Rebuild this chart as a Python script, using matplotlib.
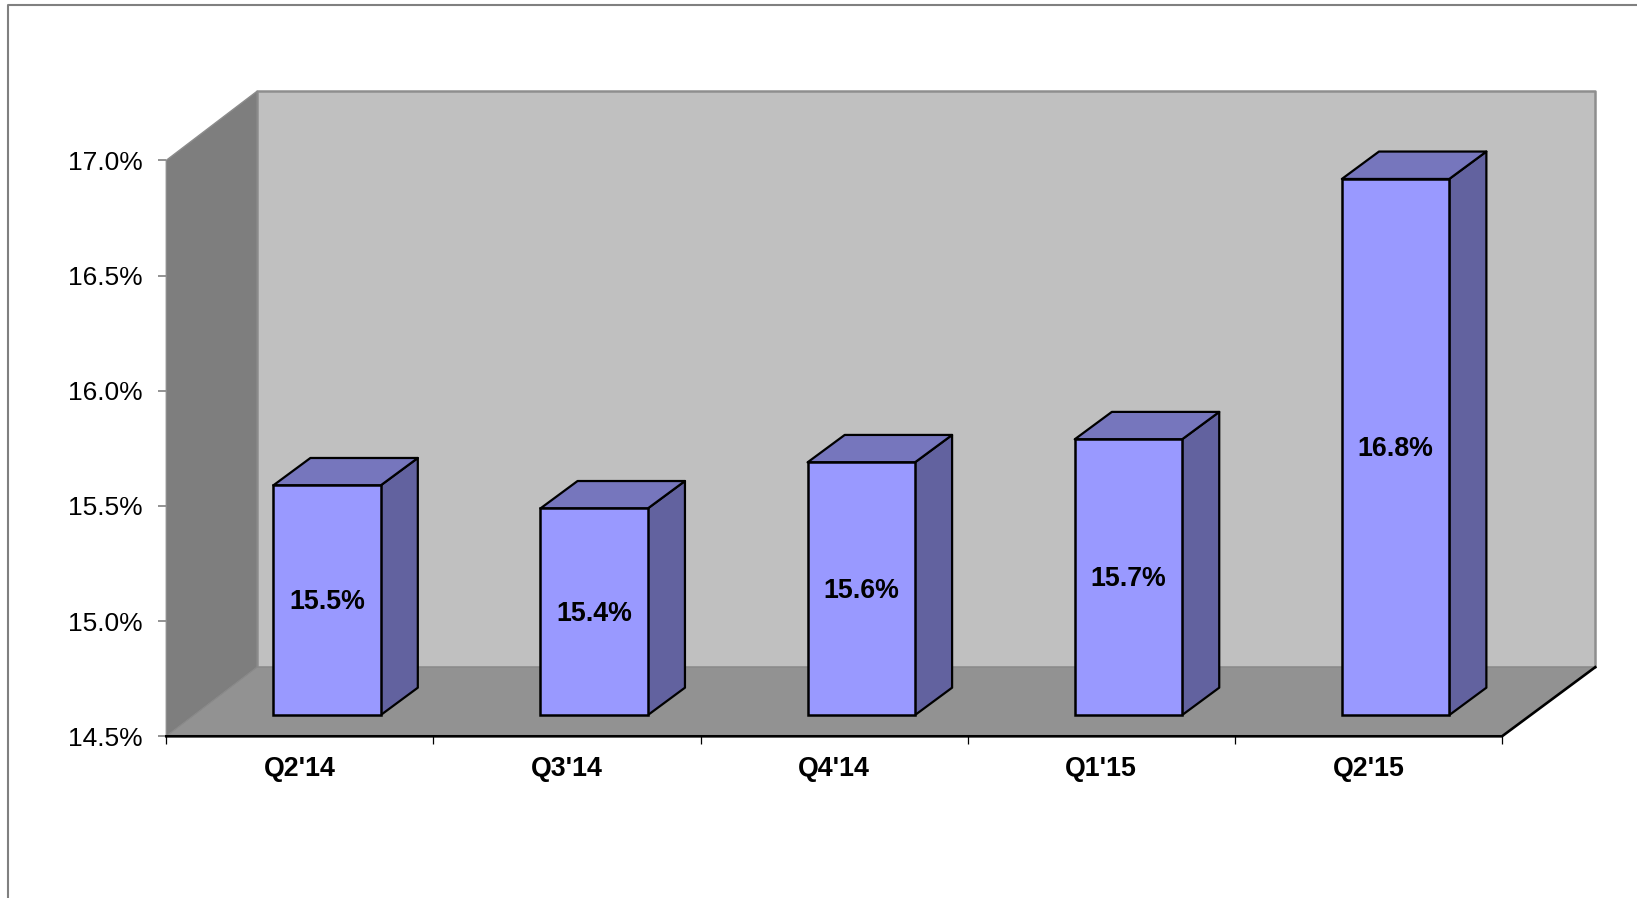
import matplotlib
matplotlib.use("Agg")
import matplotlib.pyplot as plt
from matplotlib.lines import Line2D
from matplotlib.patches import Polygon

plt.rcParams['font.family'] = ['Liberation Sans', 'DejaVu Sans']

quarters = ["Q2'14", "Q3'14", "Q4'14", "Q1'15", "Q2'15"]
values = [15.5, 15.4, 15.6, 15.7, 16.83]
bar_labels = ["15.5%", "15.4%", "15.6%", "15.7%", "16.8%"]
y_ticks = [14.5, 15.0, 15.5, 16.0, 16.5, 17.0]

W, H = 1637, 898
y_min, y_max = 14.5, 17.0

# depth of the fake 3d box, in data units
wall_dx_left, wall_dx_right, wall_dy = 0.340, 0.349, 0.30
front_dx, front_dy = 0.1015, 0.092
top_shift = 0.089
bar_dx, bar_dy = 0.139, 0.119
bar_w = 0.402

fig = plt.figure(figsize=(W / 100, H / 100), dpi=100)
ax = fig.add_axes([166.3 / W, 1 - 736.3 / H, (1502 - 166.3) / W, (736.3 - 160.3) / H])
ax.set_xlim(0, 5)
ax.set_ylim(y_min, y_max)
ax.patch.set_visible(False)
for s in ax.spines.values():
    s.set_visible(False)


def face(pts, color, edge=None, lw=0.0, z=1):
    ax.add_patch(Polygon(pts, closed=True, facecolor=color, edgecolor=edge or color,
                         linewidth=lw, zorder=z, clip_on=False, joinstyle='round'))


# walls and floor
face([(wall_dx_left, y_min + wall_dy), (5 + wall_dx_right, y_min + wall_dy),
      (5 + wall_dx_right, y_max + wall_dy), (wall_dx_left, y_max + wall_dy)], '#c0c0c0', '#8e8e8e', 1.8, 1)
face([(0, y_min), (wall_dx_left, y_min + wall_dy), (wall_dx_left, y_max + wall_dy), (0, y_max)],
     '#7e7e7e', '#8c8c8c', 1.0, 2)
face([(0, y_min), (5, y_min), (5 + wall_dx_right, y_min + wall_dy), (wall_dx_left, y_min + wall_dy)],
     '#929292', '#888888', 0.6, 2)

# black front and right floor edges
ax.plot([0, 5, 5 + wall_dx_right], [y_min, y_min, y_min + wall_dy], color='black', lw=1.9,
        zorder=3, clip_on=False, solid_joinstyle='miter')

# bars, front faces
lefts = [i + 0.5 + front_dx - bar_w / 2 for i in range(len(values))]
base = y_min + front_dy
heights = [v + top_shift - base for v in values]
ax.bar(lefts, heights, width=bar_w, bottom=base, align='edge', color='#9999ff',
       edgecolor='black', linewidth=1.8, zorder=6, clip_on=False)

for left, v, lab in zip(lefts, values, bar_labels):
    top = v + top_shift
    right = left + bar_w
    # side
    face([(right, base), (right + bar_dx, base + bar_dy), (right + bar_dx, top + bar_dy), (right, top)],
         '#62629f', 'black', 1.6, 5)
    # top
    face([(left, top), (right, top), (right + bar_dx, top + bar_dy), (left + bar_dx, top + bar_dy)],
         '#7676bd', 'black', 1.6, 5)
    ax.text(left + bar_w / 2, (base + top) / 2 - 0.009, lab, ha='center', va='center',
            fontsize=19.3, fontweight='bold', color='black', zorder=7)

# axes ticks
ax.set_yticks(y_ticks)
ax.set_yticklabels([f"{t:.1f}%" for t in y_ticks], fontsize=19, color='black')
ax.tick_params(axis='y', length=5.5, width=1.2, color='#808080', pad=11.3)
ax.set_xticks(range(6))
ax.set_xticklabels([])
ax.tick_params(axis='x', which='major', length=5.5, width=0.9, color='black')
ax.set_xticks([i + 0.5 for i in range(len(quarters))], minor=True)
ax.set_xticklabels(quarters, minor=True, fontsize=19.3, fontweight='bold')
ax.tick_params(axis='x', which='minor', length=0, pad=14.2)

# outer chart frame, only top and left are in the crop
fig.add_artist(Line2D([8 / W, 8 / W, 1], [0, 1 - 5 / H, 1 - 5 / H], color='#808080', lw=1.5))

fig.savefig('out.png', dpi=100)
